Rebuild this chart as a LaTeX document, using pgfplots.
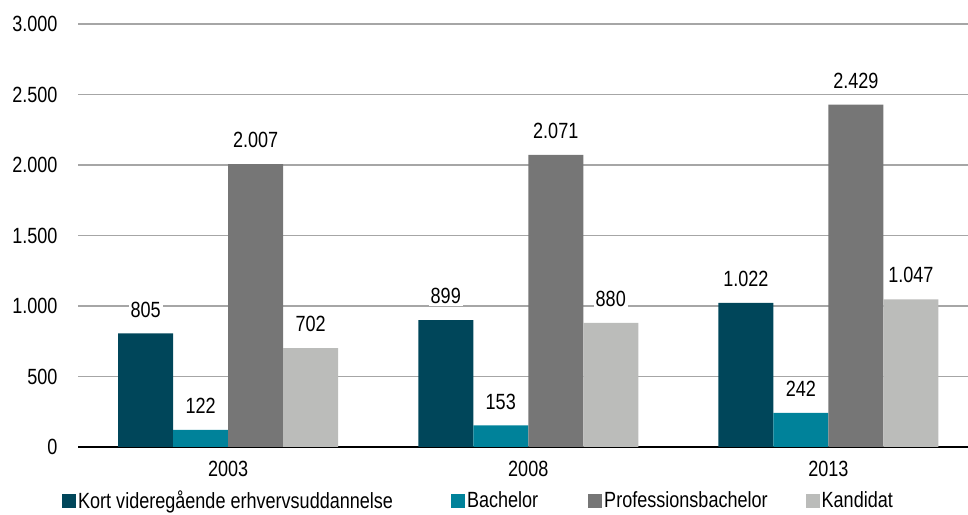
\documentclass[border=0pt]{standalone}
\usepackage{fontspec}
\setmainfont[FakeStretch=0.82]{Liberation Sans}
\usepackage{pgfplots}
\pgfplotsset{compat=1.18}
\definecolor{cA}{HTML}{00465A}
\definecolor{cB}{HTML}{00829A}
\definecolor{cC}{HTML}{767676}
\definecolor{cD}{HTML}{BBBCBA}
\definecolor{gridc}{HTML}{A6A6A6}
\begin{document}
\begin{tikzpicture}
\path[use as bounding box] (0,0) rectangle (968bp,515bp);
\begin{axis}[
  at={(78bp,68bp)}, anchor=south west,
  scale only axis, width=890bp, height=423bp,
  ybar=0pt, bar width=55bp,
  xmin=-0.5, xmax=2.465, ymin=0, ymax=3000,
  xtick={0,1,2}, xticklabels={2003,2008,2013},
  ytick={0,500,1000,1500,2000,2500,3000},
  axis x line*=bottom, axis y line*=left,
  x axis line style={black, line width=1.6bp},
  y axis line style={draw=none},
  major tick length=0pt,
  ymajorgrids, grid style={gridc, line width=1.5bp},
  tick label style={font=\fontsize{22bp}{25bp}\selectfont},
  /pgf/number format/assume math mode=true,
  /pgf/number format/.cd, 1000 sep={.}, /pgfplots/.cd,
  yticklabel style={xshift=-17bp},
  xticklabel style={yshift=-11bp},
  nodes near coords,
  nodes near coords style={font=\fontsize{22bp}{25bp}\selectfont, fill=white, inner sep=2bp, yshift=14bp,
     /pgf/number format/assume math mode=true, /pgf/number format/1000 sep={.}},
  legend columns=4,
  legend style={at={(-0.018,-0.127)}, anchor=west, draw=none, fill=none,
    font=\fontsize{22bp}{25bp}\selectfont,
    /tikz/column 2/.style={column sep=56bp},
    /tikz/column 4/.style={column sep=48bp},
    /tikz/column 6/.style={column sep=36bp},
    inner sep=0pt},
  legend image code/.code={\fill[#1] (0bp,-7bp) rectangle (14bp,7bp);},
]
\addplot[fill=cA, draw=none] coordinates {(0,805) (1,899) (2,1022)};
\addplot[fill=cB, draw=none] coordinates {(0,122) (1,153) (2,242)};
\addplot[fill=cC, draw=none] coordinates {(0,2007) (1,2071) (2,2429)};
\addplot[fill=cD, draw=none] coordinates {(0,702) (1,880) (2,1047)};
\legend{Kort videregående erhvervsuddannelse, Bachelor, Professionsbachelor, Kandidat}
\end{axis}
\end{tikzpicture}
\end{document}
